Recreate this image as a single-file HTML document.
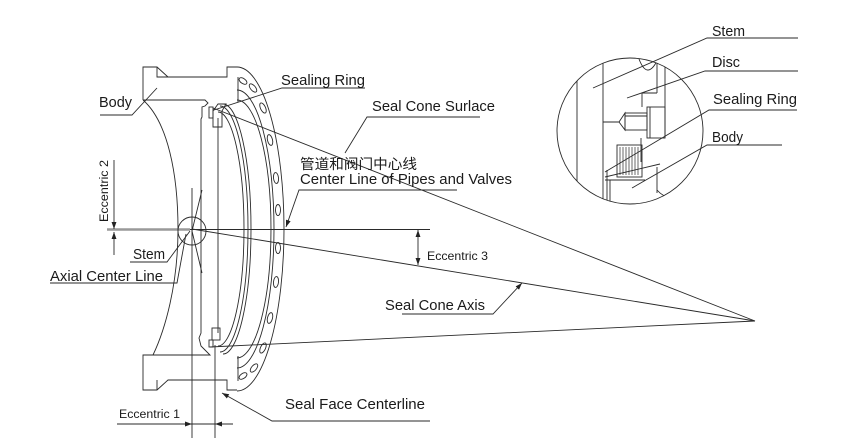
<!DOCTYPE html>
<html><head><meta charset="utf-8"><style>html,body{margin:0;padding:0;background:#fff;}svg{display:block}</style></head>
<body>
<svg width="865" height="443" viewBox="0 0 865 443" xmlns="http://www.w3.org/2000/svg" font-family="'Liberation Sans', 'Noto Sans CJK SC', sans-serif">
<defs>
<marker id="ar" viewBox="0 0 10 10" refX="10" refY="5" markerWidth="7" markerHeight="7" markerUnits="userSpaceOnUse" orient="auto-start-reverse"><path d="M0,1.5 L10,5 L0,8.5z" fill="#222"/></marker>
<clipPath id="cc"><circle cx="630" cy="131" r="73"/></clipPath>
</defs>
<rect width="865" height="443" fill="#fff"/>
<g fill="none" stroke="#2a2a2a" stroke-width="0.9">
<!-- cone lines -->
<line x1="213" y1="108" x2="755" y2="321"/>
<line x1="192" y1="229" x2="755" y2="321"/>
<line x1="210" y1="347" x2="755" y2="321"/>
<!-- center line -->
<line x1="107" y1="229.5" x2="430" y2="229.5"/>
<line x1="107" y1="229.5" x2="190" y2="229.5" stroke="#999" stroke-width="2.4"/>
<!-- body flange top -->
<path d="M143,100 L143,67 L157,67 L168,77 L227,77 L227,67 L237,67"/>
<path d="M157,67 L157,77 L168,77"/>
<!-- body inner + bottom flange -->
<path d="M143,100 L205,100 L208,103 L205,106 L202,107 L202,117 L201,119 L201,333 L199,338 L201,346 L206,351 L210,355 L143,355 L143,390 L157,390 L168,380 L227,380 L227,390 L237,390"/>
<path d="M157,390 L157,380"/>
<!-- flange faces -->
<path d="M238,77 L238,102"/>
<path d="M238,356 L238,381"/>
<!-- body curve -->
<path d="M143,100 C168,122 178,175 178,229 C178,285 165,330 153,355"/>
<!-- flange arcs -->
<path d="M237,67 A47,162 0 0 1 237,391"/>
<path d="M237,100 A34,129 0 0 1 237,358"/>
<path d="M237,90 A37,139 0 0 1 237,368"/>
<!-- disc arcs -->
<path d="M218,112 A26,117 0 0 1 218,346"/>
<path d="M220,106 A28,123 0 0 1 220,352"/>
<path d="M223,104 A28,125 0 0 1 223,354"/>
<!-- holes -->
<ellipse cx="243" cy="81" rx="2.5" ry="4.5" transform="rotate(-55 243 81)"/>
<ellipse cx="253" cy="88" rx="2.5" ry="5" transform="rotate(-40 253 88)"/>
<ellipse cx="263" cy="108" rx="2.5" ry="5.5" transform="rotate(-25 263 108)"/>
<ellipse cx="270" cy="140" rx="2.5" ry="5.5" transform="rotate(-14 270 140)"/>
<ellipse cx="276" cy="178" rx="2.5" ry="5.5" transform="rotate(-6 276 178)"/>
<ellipse cx="278" cy="210" rx="2.5" ry="5.5"/>
<ellipse cx="278" cy="248" rx="2.5" ry="5.5"/>
<ellipse cx="276" cy="282" rx="2.5" ry="5.5" transform="rotate(6 276 282)"/>
<ellipse cx="270" cy="318" rx="2.5" ry="5.5" transform="rotate(14 270 318)"/>
<ellipse cx="263" cy="348" rx="2.5" ry="5.5" transform="rotate(25 263 348)"/>
<ellipse cx="254" cy="368" rx="2.5" ry="5" transform="rotate(40 254 368)"/>
<ellipse cx="243" cy="376" rx="2.5" ry="4.5" transform="rotate(55 243 376)"/>
<!-- stem -->
<circle cx="192" cy="231" r="14"/>
<line x1="192" y1="188" x2="192" y2="438"/>
<path d="M202,190 L192,231 L202,273"/>
<line x1="218" y1="118" x2="218" y2="333"/>
<line x1="215" y1="345" x2="215" y2="438"/>
<!-- seal rings -->
<rect x="209" y="107" width="4" height="11"/>
<path d="M213,111 L218,104 L226,104 L222,111 L222,127 L213,127 Z"/>
<rect x="212" y="328" width="8" height="12"/>
<rect x="209" y="340" width="4" height="7"/>
<!-- leaders -->
<polyline points="100,115 132,115 157,88"/>
<polyline points="365,88 282,88 214,110"/>
<polyline points="480,117 367,117 345,153"/>
<polyline points="457,190 299,190 286,227" marker-end="url(#ar)"/>
<polyline points="402,314 493,314 522,283" marker-end="url(#ar)"/>
<polyline points="430,421 272,421 222,393" marker-end="url(#ar)"/>
<polyline points="130,262 167,262 190,231"/>
<polyline points="50,283 177,283 186,234"/>
<!-- eccentric dims -->
<line x1="418" y1="230" x2="418" y2="265" marker-start="url(#ar)" marker-end="url(#ar)"/>
<line x1="114" y1="160" x2="114" y2="229" marker-end="url(#ar)"/>
<line x1="114" y1="255" x2="114" y2="232" marker-end="url(#ar)"/>
<line x1="117" y1="424" x2="233" y2="424"/>
<line x1="170" y1="424" x2="192" y2="424" marker-end="url(#ar)"/>
<line x1="233" y1="424" x2="215" y2="424" marker-end="url(#ar)"/>
<!-- detail circle -->
<circle cx="630" cy="131" r="73"/>
<g clip-path="url(#cc)">
<line x1="577" y1="50" x2="577" y2="210"/>
<line x1="603" y1="50" x2="603" y2="210"/>
<line x1="607" y1="170" x2="607" y2="210"/>
<path d="M639,59 Q647,80 657,61"/>
<line x1="657" y1="50" x2="657" y2="93"/>
<line x1="665" y1="55" x2="665" y2="138"/>
<path d="M642,107 L642,93 L657,93"/>
<line x1="603" y1="122" x2="619" y2="122"/>
<path d="M619,122 L625,113 L625,130 Z"/>
<rect x="625" y="113" width="22" height="17"/>
<line x1="625" y1="116" x2="647" y2="116"/>
<rect x="647" y="107" width="18" height="31"/>
<line x1="650" y1="107" x2="650" y2="138"/>
<path d="M641,138 L641,162"/>
<rect x="617" y="145" width="25" height="32"/>
<path d="M620,147 V175 M623,147 V175 M626,147 V175 M629,147 V175 M632,147 V175 M635,147 V175 M638,147 V175" stroke-width="0.7"/>
<path d="M605,177 L660,164"/>
<path d="M605,180 L645,180"/>
<line x1="610" y1="180" x2="610" y2="210"/>
<line x1="657" y1="167" x2="657" y2="193"/>
<path d="M657,190 Q664,198 672,197"/>
</g>
<polyline points="798,38 707,38 593,88"/>
<polyline points="798,71 705,71 627,98"/>
<polyline points="797,110 709,110 605,172"/>
<polyline points="782,145 707,145 632,188"/>
</g>
<g fill="#1a1a1a" font-size="14.5">
<text x="99" y="107" textLength="33" lengthAdjust="spacingAndGlyphs">Body</text>
<text x="281" y="85" textLength="84" lengthAdjust="spacingAndGlyphs">Sealing Ring</text>
<text x="372" y="111" textLength="123" lengthAdjust="spacingAndGlyphs">Seal Cone Surlace</text>
<text x="300" y="169" font-size="14" textLength="117" lengthAdjust="spacingAndGlyphs">管道和阀门中心线</text>
<text x="300" y="184" textLength="212" lengthAdjust="spacingAndGlyphs">Center Line of Pipes and Valves</text>
<text x="427" y="260" font-size="12" textLength="61" lengthAdjust="spacingAndGlyphs">Eccentric 3</text>
<text x="385" y="310" textLength="100" lengthAdjust="spacingAndGlyphs">Seal Cone Axis</text>
<text x="285" y="409" textLength="140" lengthAdjust="spacingAndGlyphs">Seal Face Centerline</text>
<text x="119" y="418" font-size="11.5" textLength="61" lengthAdjust="spacingAndGlyphs">Eccentric 1</text>
<text transform="translate(108,222) rotate(-90)" font-size="11.5" textLength="62" lengthAdjust="spacingAndGlyphs">Eccentric 2</text>
<text x="133" y="259" textLength="32" lengthAdjust="spacingAndGlyphs">Stem</text>
<text x="50" y="281" textLength="113" lengthAdjust="spacingAndGlyphs">Axial Center Line</text>
<text x="712" y="36" textLength="33" lengthAdjust="spacingAndGlyphs">Stem</text>
<text x="712" y="67" textLength="28" lengthAdjust="spacingAndGlyphs">Disc</text>
<text x="713" y="104" textLength="84" lengthAdjust="spacingAndGlyphs">Sealing Ring</text>
<text x="712" y="142" textLength="31" lengthAdjust="spacingAndGlyphs">Body</text>
</g>
</svg>
</body></html>
